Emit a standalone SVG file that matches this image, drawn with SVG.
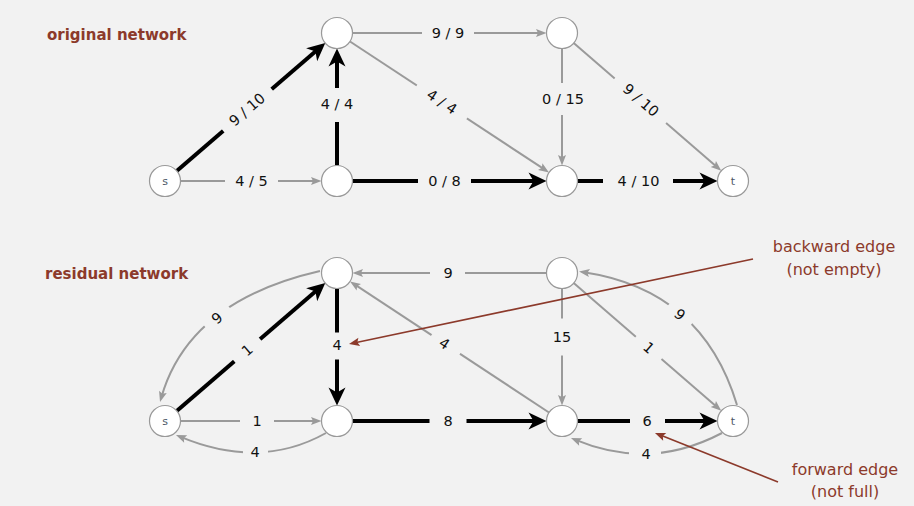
<svg xmlns="http://www.w3.org/2000/svg" width="914" height="506" viewBox="0 0 914 506">
  <style>
    .bg { fill: #f2f2f2; }
    .node circle { fill: #ffffff; stroke: #999999; stroke-width: 1.2; }
    .node text { font-family: "DejaVu Sans", "Liberation Sans", sans-serif; font-size: 11px; fill: #4c5866; text-anchor: middle; }
    .thin { fill: none; stroke: #9a9a9a; stroke-width: 2; marker-end: url(#headThin); }
    .thick { fill: none; stroke: #000000; stroke-width: 4; marker-end: url(#headThick); }
    .lbl { font-family: "DejaVu Sans", "Liberation Sans", sans-serif; font-size: 14.5px; fill: #111111; text-anchor: middle; }
    .title { font-family: "DejaVu Sans", "Liberation Sans", sans-serif; font-size: 15px; font-weight: bold; fill: #8c3a2b; }
    .note { font-family: "DejaVu Sans", "Liberation Sans", sans-serif; font-size: 16px; fill: #8c3a2b; text-anchor: middle; }
    .pointer { fill: none; stroke: #8c3a2b; stroke-width: 1.6; marker-end: url(#headRed); }
    #labelGaps rect { fill: #000000; }
  </style>
  <defs>
    <marker id="headThick" markerUnits="userSpaceOnUse" viewBox="-10 -10 22 20" markerWidth="22" markerHeight="20" refX="0" refY="0" orient="auto">
      <path d="M10,0 L-8,-8.5 L-3,0 L-8,8.5 Z" fill="#000000"/>
    </marker>
    <marker id="headThin" markerUnits="userSpaceOnUse" viewBox="-7 -5 13 10" markerWidth="13" markerHeight="10" refX="0" refY="0" orient="auto">
      <path d="M5,0 L-5.5,-4 L-3.5,0 L-5.5,4 Z" fill="#9a9a9a"/>
    </marker>
    <marker id="headRed" markerUnits="userSpaceOnUse" viewBox="-7 -5 13 10" markerWidth="13" markerHeight="10" refX="0" refY="0" orient="auto">
      <path d="M5,0 L-5.5,-4.2 L-3.5,0 L-5.5,4.2 Z" fill="#8c3a2b"/>
    </marker>
    <!-- edges are interrupted where their labels sit -->
    <mask id="labelGaps" maskUnits="userSpaceOnUse" x="0" y="0" width="914" height="506">
      <rect x="0" y="0" width="914" height="506" style="fill:#ffffff"/>
      <rect x="-32" y="-11" width="64" height="22" transform="translate(247,109.5) rotate(-40.7)"/>
      <rect x="-26.5" y="-11" width="53" height="22" transform="translate(251.5,181)"/>
      <rect x="-17" y="-11" width="34" height="22" transform="translate(337,105) rotate(90)"/>
      <rect x="-26" y="-11" width="52" height="22" transform="translate(448,33)"/>
      <rect x="-30" y="-11" width="60" height="22" transform="translate(442,101.7) rotate(33.3)"/>
      <rect x="-26.5" y="-11" width="53" height="22" transform="translate(444.5,181)"/>
      <rect x="-16" y="-11" width="32" height="22" transform="translate(562,99) rotate(90)"/>
      <rect x="-34" y="-11" width="68" height="22" transform="translate(641,100) rotate(40.9)"/>
      <rect x="-35" y="-11" width="70" height="22" transform="translate(638,181)"/>

      <rect x="-15.5" y="-11" width="31" height="22" transform="translate(218,318) rotate(-40)"/>
      <rect x="-17" y="-11" width="34" height="22" transform="translate(247,350) rotate(-40.7)"/>
      <rect x="-17" y="-11" width="34" height="22" transform="translate(257,421)"/>
      <rect x="-12.5" y="-11" width="25" height="22" transform="translate(255.5,451.5)"/>
      <rect x="-13.5" y="-11" width="27" height="22" transform="translate(337,346) rotate(90)"/>
      <rect x="-17.5" y="-11" width="35" height="22" transform="translate(447.5,273)"/>
      <rect x="-17" y="-11" width="34" height="22" transform="translate(445.8,344.4) rotate(33.3)"/>
      <rect x="-18.5" y="-11" width="37" height="22" transform="translate(562,337) rotate(90)"/>
      <rect x="-17" y="-11" width="34" height="22" transform="translate(649,347.5) rotate(40.9)"/>
      <rect x="-15" y="-11" width="30" height="22" transform="translate(680,314.5) rotate(40)"/>
      <rect x="-18.5" y="-11" width="37" height="22" transform="translate(448,421)"/>
      <rect x="-17.5" y="-11" width="35" height="22" transform="translate(647.5,421)"/>
      <rect x="-16" y="-11" width="32" height="22" transform="translate(645,453)"/>
    </mask>
  </defs>

  <rect class="bg" x="0" y="0" width="914" height="506"/>

  <text class="title" x="47" y="40">original network</text>
  <text class="title" x="45" y="279">residual network</text>

  <!-- connectors: flow network (top) and residual network (bottom) -->
  <g id="connectors">
    <g mask="url(#labelGaps)">
      <!-- original network -->
      <line class="thick" x1="176.7" y1="170.9" x2="317.7" y2="49.6"/>
      <line class="thin" x1="180.5" y1="181" x2="316.5" y2="181"/>
      <line class="thick" x1="337" y1="165.5" x2="337" y2="58.5"/>
      <line class="thin" x1="352.5" y1="33" x2="541.5" y2="33"/>
      <line class="thin" x1="350" y1="41.5" x2="544.8" y2="169.7"/>
      <line class="thick" x1="352.5" y1="181" x2="536.5" y2="181"/>
      <line class="thin" x1="562" y1="48.5" x2="562" y2="160.5"/>
      <line class="thin" x1="573.7" y1="43.1" x2="717.5" y2="167.6"/>
      <line class="thick" x1="577.5" y1="181" x2="707.5" y2="181"/>

      <!-- residual network -->
      <path class="thin" d="M320,271 Q189,301 161.4,397.2"/>
      <line class="thick" x1="176.7" y1="410.9" x2="317.7" y2="289.6"/>
      <line class="thin" x1="180.5" y1="421" x2="316.5" y2="421"/>
      <path class="thin" d="M326,433 Q260,470 180.6,436.9"/>
      <line class="thick" x1="337" y1="288.5" x2="337" y2="395.5"/>
      <line class="thin" x1="546.5" y1="273" x2="357.5" y2="273"/>
      <line class="thin" x1="549" y1="412.5" x2="354.2" y2="284.2"/>
      <line class="thin" x1="562" y1="288.5" x2="562" y2="400.5"/>
      <line class="thin" x1="573.7" y1="283.1" x2="717.5" y2="407.6"/>
      <path class="thin" d="M737,405 Q702.5,290 584,272.2"/>
      <line class="thick" x1="352.5" y1="421" x2="536.5" y2="421"/>
      <line class="thick" x1="577.5" y1="421" x2="707.5" y2="421"/>
      <path class="thin" d="M722,433 Q650,471 575.6,439.9"/>
    </g>

    <!-- flow / capacity labels -->
    <text class="lbl" transform="translate(247,109.5) rotate(-40.7)" y="5.2">9 / 10</text>
    <text class="lbl" transform="translate(251.5,181)" y="5.2">4 / 5</text>
    <text class="lbl" transform="translate(337,104)" y="5.2">4 / 4</text>
    <text class="lbl" transform="translate(448,33)" y="5.2">9 / 9</text>
    <text class="lbl" transform="translate(442,101.7) rotate(33.3)" y="5.2">4 / 4</text>
    <text class="lbl" transform="translate(444.5,181)" y="5.2">0 / 8</text>
    <text class="lbl" transform="translate(563,99)" y="5.2">0 / 15</text>
    <text class="lbl" transform="translate(641,100) rotate(40.9)" y="5.2">9 / 10</text>
    <text class="lbl" transform="translate(638.5,181)" y="5.2">4 / 10</text>

    <text class="lbl" transform="translate(217,318) rotate(-40)" y="5.2">9</text>
    <text class="lbl" transform="translate(247,350) rotate(-40.7)" y="5.2">1</text>
    <text class="lbl" transform="translate(257,421)" y="5.2">1</text>
    <text class="lbl" transform="translate(255,452)" y="5.2">4</text>
    <text class="lbl" transform="translate(337,345)" y="5.2">4</text>
    <text class="lbl" transform="translate(448,273)" y="5.2">9</text>
    <text class="lbl" transform="translate(444.5,343.5) rotate(33.3)" y="5.2">4</text>
    <text class="lbl" transform="translate(562,337)" y="5.2">15</text>
    <text class="lbl" transform="translate(649,347.5) rotate(40.9)" y="5.2">1</text>
    <text class="lbl" transform="translate(680,314.5) rotate(40)" y="5.2">9</text>
    <text class="lbl" transform="translate(448,421)" y="5.2">8</text>
    <text class="lbl" transform="translate(647,421)" y="5.2">6</text>
    <text class="lbl" transform="translate(646,453.5)" y="5.2">4</text>
  </g>

  <!-- original network vertices -->
  <g id="s" class="node"><circle cx="165" cy="181" r="15.5"/><text x="165" y="185">s</text></g>
  <g id="v1" class="node"><circle cx="337" cy="33" r="15.5"/></g>
  <g id="v2" class="node"><circle cx="337" cy="181" r="15.5"/></g>
  <g id="v3" class="node"><circle cx="562" cy="33" r="15.5"/></g>
  <g id="v4" class="node"><circle cx="562" cy="181" r="15.5"/></g>
  <g id="t" class="node"><circle cx="733" cy="181" r="15.5"/><text x="733" y="185">t</text></g>

  <!-- residual network vertices -->
  <g id="rs" class="node"><circle cx="165" cy="421" r="15.5"/><text x="165" y="425">s</text></g>
  <g id="rv1" class="node"><circle cx="337" cy="273" r="15.5"/></g>
  <g id="rv2" class="node"><circle cx="337" cy="421" r="15.5"/></g>
  <g id="rv3" class="node"><circle cx="562" cy="273" r="15.5"/></g>
  <g id="rv4" class="node"><circle cx="562" cy="421" r="15.5"/></g>
  <g id="rt" class="node"><circle cx="733" cy="421" r="15.5"/><text x="733" y="425">t</text></g>

  <!-- callouts -->
  <g id="backward-note">
    <line class="pointer" x1="753" y1="259" x2="353.9" y2="343"/>
    <text class="note" x="834" y="252">backward edge</text>
    <text class="note" x="834" y="275">(not empty)</text>
  </g>
  <g id="forward-note">
    <line class="pointer" x1="778" y1="482" x2="659.6" y2="434.8"/>
    <text class="note" x="845" y="475">forward edge</text>
    <text class="note" x="845" y="497">(not full)</text>
  </g>
</svg>
